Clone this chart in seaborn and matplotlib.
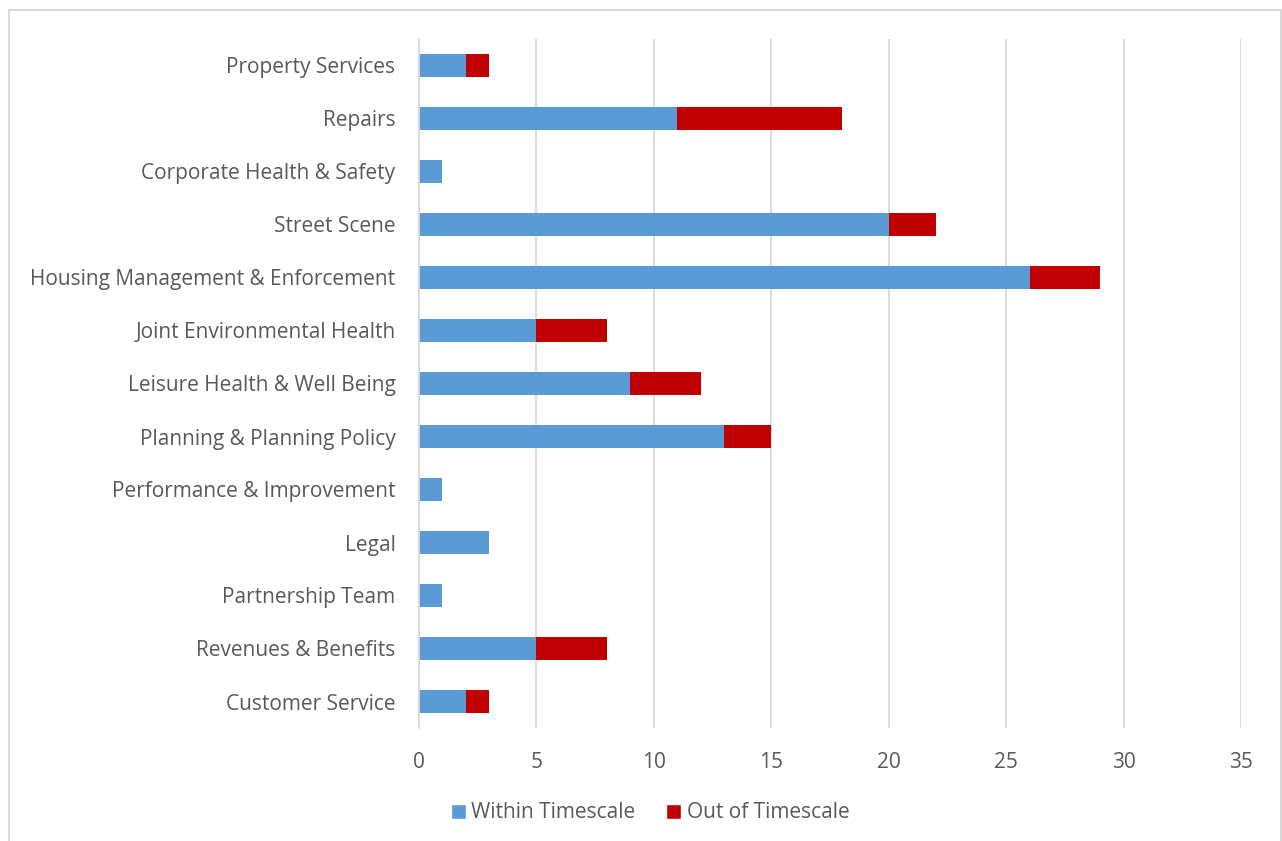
import matplotlib
matplotlib.use("Agg")
import matplotlib.pyplot as plt
from matplotlib.patches import Rectangle, Patch
import seaborn as sns
import pandas as pd

categories = [
    "Property Services",
    "Repairs",
    "Corporate Health & Safety",
    "Street Scene",
    "Housing Management & Enforcement",
    "Joint Environmental Health",
    "Leisure Health & Well Being",
    "Planning & Planning Policy",
    "Performance & Improvement",
    "Legal",
    "Partnership Team",
    "Revenues & Benefits",
    "Customer Service",
]
within_timescale = [2, 11, 1, 20, 26, 5, 9, 13, 1, 3, 1, 5, 2]
out_of_timescale = [1, 7, 0, 2, 3, 3, 3, 2, 0, 0, 0, 3, 1]
x_ticks = [0, 5, 10, 15, 20, 25, 30, 35]

df = pd.DataFrame({
    "category": categories,
    "within": within_timescale,
    "out": out_of_timescale,
})
df["total"] = df["within"] + df["out"]

sns.set_theme(style="white")
plt.rcParams["font.family"] = ["Open Sans", "DejaVu Sans"]

BLUE = "#5B9BD5"
RED = "#C00000"
TEXT = "#595959"
GRID = "#D9D9D9"
FS = 15

fig = plt.figure(figsize=(12.82, 8.41), dpi=100)
ax = fig.add_axes([419 / 1282, 1 - 728 / 841, (1241 - 419) / 1282, (728 - 39) / 841])

# stacked bars: total in red underneath, within-timescale in blue on top
sns.barplot(data=df, x="total", y="category", color=RED, width=0.42,
            saturation=1, linewidth=0, ax=ax, orient="h")
sns.barplot(data=df, x="within", y="category", color=BLUE, width=0.42,
            saturation=1, linewidth=0, ax=ax, orient="h")

ax.set_xlim(0, 35)
ax.set_xticks(x_ticks)
ax.set_xticklabels([str(t) for t in x_ticks])
ax.set_xlabel("")
ax.set_ylabel("")
ax.xaxis.grid(True, color=GRID, linewidth=1.3)
ax.set_axisbelow(True)
for side in ["top", "right", "bottom"]:
    ax.spines[side].set_visible(False)
ax.spines["left"].set_color(GRID)
ax.spines["left"].set_linewidth(1.3)
ax.tick_params(axis="both", length=0, colors=TEXT, labelsize=FS)
ax.tick_params(axis="y", pad=17)
ax.tick_params(axis="x", pad=17)

handles = [Patch(facecolor=BLUE, label="Within Timescale"),
           Patch(facecolor=RED, label="Out of Timescale")]
fig.legend(handles=handles, loc="center", bbox_to_anchor=(650 / 1282, 1 - 813 / 841),
           ncol=2, frameon=False, fontsize=FS, labelcolor=TEXT,
           handlelength=0.72, handleheight=0.72, handletextpad=0.25,
           columnspacing=1.5)

# chart-area frame (open at the bottom edge of the image)
fig.patches.append(Rectangle((9 / 1282, -0.05), (1281 - 9) / 1282, 1.05 - 10 / 841,
                             transform=fig.transFigure, fill=False,
                             edgecolor=GRID, linewidth=1.5))

fig.savefig("out.png", dpi=100, facecolor="white")
